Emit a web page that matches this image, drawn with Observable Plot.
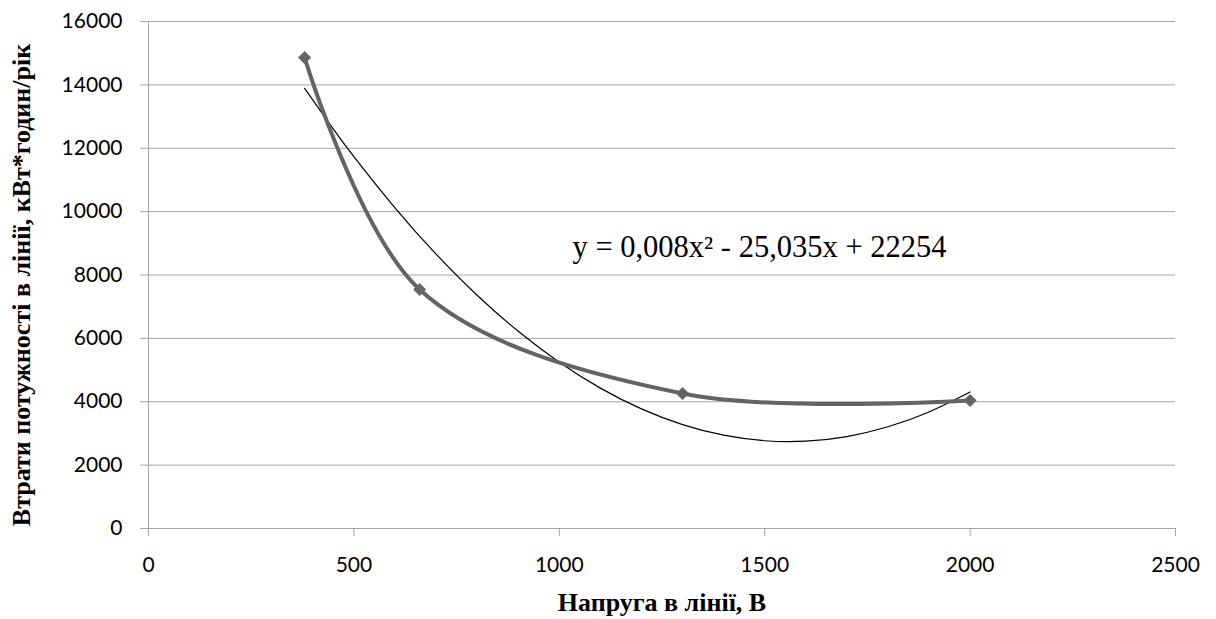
<!DOCTYPE html>
<html>
<head>
<meta charset="utf-8">
<script src="https://cdn.jsdelivr.net/npm/d3@7"></script>
<script src="https://cdn.jsdelivr.net/npm/@observablehq/plot@0.6"></script>
<style>
  html, body { margin: 0; padding: 0; background: #fff; }
  #chart svg { display: block; }
</style>
</head>
<body>
<div id="chart"></div>
<script>
// Measured points: voltage (V) and line power losses (kWh/year)
const voltage = [380, 660, 1300, 2000];
const losses = [14860, 7540, 4260, 4040];

// Polynomial trend line values
const trendX = [380, 450, 500, 600, 700, 800, 900, 1000, 1100, 1200, 1300, 1400, 1500, 1600, 1700, 1800, 1900, 2000];
const trendY = [13891, 12606, 11736, 10117, 8659, 7361, 6223, 5247, 4430, 3774, 3279, 2944, 2770, 2756, 2902, 3210, 3677, 4305];

const xTicks = [0, 500, 1000, 1500, 2000, 2500];
const yTicks = [0, 2000, 4000, 6000, 8000, 10000, 12000, 14000, 16000];

const equationText = "y = 0,008x² - 25,035x + 22254";
const xTitle = "Напруга в лінії, В";
const yTitle = "Втрати потужності в лінії, кВт*годин/рік";

const points = voltage.map((v, i) => ({x: v, y: losses[i]}));
const trend = trendX.map((v, i) => ({x: v, y: trendY[i]}));

const gridColor = "#a6a6a6";
const seriesColor = "#646464";
const serif = "'Liberation Serif', 'Times New Roman', serif";

const chart = Plot.plot({
  width: 1216,
  height: 619,
  marginLeft: 148,
  marginRight: 41,
  marginTop: 21,
  marginBottom: 91,
  style: {fontFamily: "Lato, 'Open Sans', sans-serif", fontSize: "21px", background: "#fff"},
  x: {domain: [0, 2500], ticks: xTicks},
  y: {domain: [0, 16000], ticks: yTicks},
  marks: [
    Plot.gridY(yTicks, {stroke: gridColor, strokeOpacity: 1, strokeWidth: 1}),
    Plot.ruleX([0], {stroke: gridColor, strokeWidth: 1}),
    Plot.ruleY([0], {stroke: gridColor, strokeWidth: 1}),
    Plot.axisY(yTicks, {
      tickSize: 8, tickPadding: 18, stroke: gridColor, fill: "#000",
      tickFormat: d => String(d), label: null, fontSize: 21
    }),
    Plot.axisX(xTicks, {
      tickSize: 8, tickPadding: 21, stroke: gridColor, fill: "#000",
      tickFormat: d => String(d), label: null, fontSize: 21
    }),
    Plot.line(trend, {x: "x", y: "y", curve: "natural", stroke: "#000", strokeWidth: 1.2}),
    Plot.line(points, {x: "x", y: "y", curve: "catmull-rom", stroke: seriesColor, strokeWidth: 4}),
    Plot.dot(points, {x: "x", y: "y", symbol: "square", rotate: 45, r: 5.2, fill: seriesColor, stroke: "none"}),
    Plot.text([equationText], {
      frameAnchor: "top-left", dx: 424, dy: 235, textAnchor: "start", lineAnchor: "bottom",
      fontFamily: serif, fontSize: 30.5, fill: "#000"
    }),
    Plot.text([xTitle], {
      frameAnchor: "bottom", dy: 82, textAnchor: "middle", lineAnchor: "bottom",
      fontFamily: serif, fontSize: 26, fontWeight: "bold", fill: "#000"
    }),
    Plot.text([yTitle], {
      frameAnchor: "left", dx: -119, dy: 10, rotate: -90, textAnchor: "middle", lineAnchor: "bottom",
      fontFamily: serif, fontSize: 26, fontWeight: "bold", fill: "#000"
    })
  ]
});

document.getElementById("chart").appendChild(chart);
</script>
</body>
</html>
